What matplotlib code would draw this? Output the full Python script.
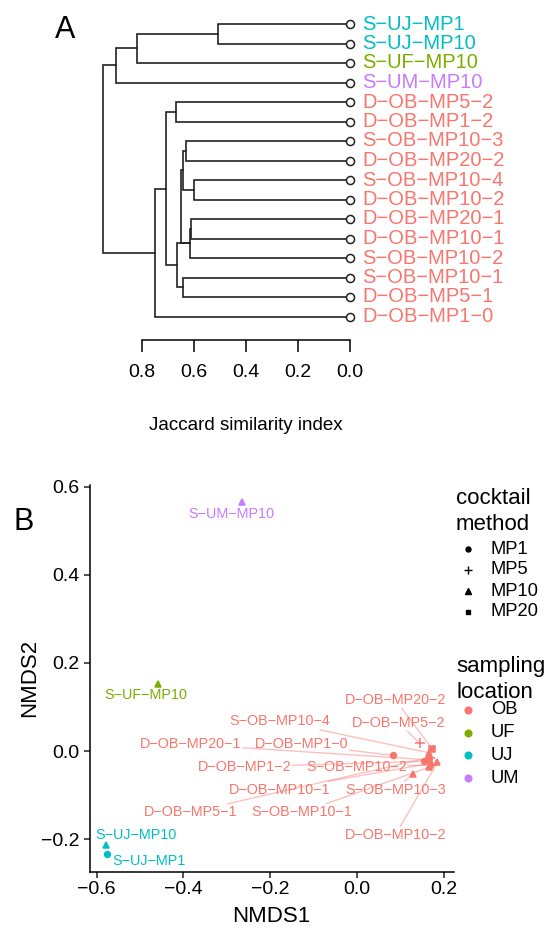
import numpy as np
import matplotlib
matplotlib.use('Agg')
import matplotlib.pyplot as plt
from matplotlib.ticker import FuncFormatter

plt.rcParams['font.family'] = ['Liberation Sans', 'DejaVu Sans']

W, H = 549, 931

# ---- panel A data: hclust (R merge convention, negative = leaf) ----
leaf_labels = ['S-UJ-MP1', 'S-UJ-MP10', 'S-UF-MP10', 'S-UM-MP10',
               'D-OB-MP5-2', 'D-OB-MP1-2', 'S-OB-MP10-3', 'D-OB-MP20-2',
               'S-OB-MP10-4', 'D-OB-MP10-2', 'D-OB-MP20-1', 'D-OB-MP10-1',
               'S-OB-MP10-2', 'S-OB-MP10-1', 'D-OB-MP5-1', 'D-OB-MP1-0']
leaf_site = ['UJ', 'UJ', 'UF', 'UM'] + ['OB'] * 12
merge_left = [-1, 1, 2, -5, -7, -9, 5, -11, 8, 7, -14, 9, 4, 13, 3]
merge_right = [-2, -3, -4, -6, -8, -10, 6, -12, -13, 9, -15, 11, 12, -16, 14]
merge_height = [0.507, 0.818, 0.900, 0.669, 0.631, 0.600, 0.640, 0.609,
                0.613, 0.649, 0.640, 0.664, 0.7065, 0.750, 0.948]
jaccard_ticks = [0.8, 0.6, 0.4, 0.2, 0.0]

# ---- panel B data: NMDS ----
samples = ['S-UM-MP10', 'S-UF-MP10', 'S-UJ-MP10', 'S-UJ-MP1',
           'D-OB-MP20-2', 'D-OB-MP5-2', 'S-OB-MP10-4', 'D-OB-MP20-1',
           'D-OB-MP1-0', 'D-OB-MP1-2', 'S-OB-MP10-2', 'D-OB-MP10-1',
           'S-OB-MP10-3', 'D-OB-MP5-1', 'S-OB-MP10-1', 'D-OB-MP10-2']
site = ['UM', 'UF', 'UJ', 'UJ'] + ['OB'] * 12
method = ['MP10', 'MP10', 'MP10', 'MP1',
          'MP20', 'MP5', 'MP10', 'MP20', 'MP1', 'MP1', 'MP10', 'MP10',
          'MP10', 'MP5', 'MP10', 'MP10']
nmds1 = [-0.265, -0.459, -0.578, -0.577,
         0.174, 0.145, 0.167, 0.166, 0.084, 0.154, 0.168, 0.172,
         0.129, 0.168, 0.166, 0.186]
nmds2 = [0.565, 0.153, -0.214, -0.234,
         0.005, 0.018, -0.004, -0.020, -0.010, -0.023, -0.032, -0.028,
         -0.052, -0.015, -0.037, -0.026]
# repelled label positions
label_x = [-0.289, -0.486, -0.509, -0.480,
           0.089, 0.097, -0.178, -0.383, -0.128, -0.259, -0.001, -0.178,
           0.089, -0.383, -0.126, 0.089]
label_y = [0.537, 0.128, -0.190, -0.250,
           0.116, 0.064, 0.067, 0.015, 0.015, -0.036, -0.036, -0.088,
           -0.088, -0.139, -0.139, -0.190]

site_levels = ['OB', 'UF', 'UJ', 'UM']
method_levels = ['MP1', 'MP5', 'MP10', 'MP20']
site_colors = {'OB': '#F8766D', 'UF': '#7CAE00', 'UJ': '#00BFC4', 'UM': '#C77CFF'}
method_marker = {'MP1': ('o', 4.2), 'MP5': ('+', 6.5), 'MP10': ('^', 4.6), 'MP20': ('s', 4.0)}


def fx(px):
    return px / W


def fy(py):
    return 1 - py / H


def dash(s):
    return s.replace('-', '\u2212')


tick_fmt = FuncFormatter(lambda v, pos: dash('%.1f' % (0.0 if abs(v) < 1e-9 else v)))

fig = plt.figure(figsize=(W / 100, H / 100), dpi=100)

# ================= panel A =================
unit = 260.0
right_px, top_px, bot_px = 349.7, 10, 340
xmax = 1.2
axA = fig.add_axes([fx(right_px - xmax * unit), fy(bot_px),
                    xmax * unit / W, (bot_px - top_px) / H])
y0, dy = 24, 19.5
axA.set_xlim(xmax, 0)
axA.set_ylim((bot_px - y0) / dy, (top_px - y0) / dy)

node_x, node_y = [], []


def child_pos(c):
    if c < 0:
        return 0.0, float(-c - 1)
    return node_x[c - 1], node_y[c - 1]


for l, r, h in zip(merge_left, merge_right, merge_height):
    xl, yl = child_pos(l)
    xr, yr = child_pos(r)
    axA.plot([xl, h, h, xr], [yl, yl, yr, yr], color='#222222', lw=1.2,
             solid_joinstyle='miter', clip_on=False)
    node_x.append(h)
    node_y.append((yl + yr) / 2)

leaf_y = np.arange(len(leaf_labels))
axA.plot(np.zeros(len(leaf_labels)), leaf_y, 'o', mfc='white', mec='#222222',
         ms=5.8, mew=1.1, clip_on=False, zorder=3)
for i, lab in enumerate(leaf_labels):
    axA.annotate(dash(lab), (0, i), xytext=(9, 0), textcoords='offset points',
                 va='center', ha='left', fontsize=14.5,
                 color=site_colors[leaf_site[i]], annotation_clip=False)

for s in ['left', 'top', 'right']:
    axA.spines[s].set_visible(False)
axA.spines['bottom'].set_bounds(0, 0.8)
axA.spines['bottom'].set_linewidth(1.1)
axA.set_xticks(jaccard_ticks)
axA.xaxis.set_major_formatter(tick_fmt)
axA.tick_params(axis='x', direction='out', length=8.6, width=1.1, pad=9,
                labelsize=14)
axA.set_yticks([])
axA.patch.set_visible(False)

fig.text(fx(245.7), fy(425), 'Jaccard similarity index', ha='center',
         va='center', fontsize=13.5)
fig.text(fx(65.5), fy(30), 'A', ha='center', va='center', fontsize=22)

# ================= panel B =================
x_arr, y_arr = np.array(nmds1), np.array(nmds2)
ex = 0.05 * (x_arr.max() - x_arr.min())
ey = 0.05 * (y_arr.max() - y_arr.min())
bl, br, bt, bb = 89.5, 454, 484.5, 871.7
axB = fig.add_axes([fx(bl), fy(bb), (br - bl) / W, (bb - bt) / H])
axB.set_xlim(x_arr.min() - ex, x_arr.max() + ex)
axB.set_ylim(y_arr.min() - ey, y_arr.max() + ey)

for i in range(len(samples)):
    mk, ms = method_marker[method[i]]
    axB.plot(nmds1[i], nmds2[i], mk, color=site_colors[site[i]], ms=ms,
             mew=1.1, zorder=4, clip_on=False)

texts = []
for i in range(len(samples)):
    t = axB.text(label_x[i], label_y[i], dash(samples[i]), ha='center',
                 va='center', fontsize=10.4, color=site_colors[site[i]], zorder=5)
    texts.append(t)

axB.set_xticks([-0.6, -0.4, -0.2, 0.0, 0.2])
axB.set_yticks([-0.2, 0.0, 0.2, 0.4, 0.6])
axB.xaxis.set_major_formatter(tick_fmt)
axB.yaxis.set_major_formatter(tick_fmt)
for s in ['top', 'right']:
    axB.spines[s].set_visible(False)
for s in ['left', 'bottom']:
    axB.spines[s].set_linewidth(1.1)
axB.tick_params(direction='out', length=4, width=1.1, pad=3, labelsize=14,
                colors='#222222', labelcolor='black')
axB.patch.set_visible(False)

fig.text(fx(271.5), fy(917), 'NMDS1', ha='center', va='center', fontsize=16)
fig.text(fx(30), fy(678), 'NMDS2', ha='center', va='center', fontsize=16,
         rotation=90)
fig.text(fx(24), fy(522.5), 'B', ha='center', va='center', fontsize=22)

# segments from OB points to their labels
fig.canvas.draw()
renderer = fig.canvas.get_renderer()
inv = axB.transData.inverted()
for i, t in enumerate(texts):
    if site[i] != 'OB':
        continue
    bb_t = t.get_window_extent(renderer).padded(1.5)
    p = axB.transData.transform((nmds1[i], nmds2[i]))
    c = np.array([(bb_t.x0 + bb_t.x1) / 2, (bb_t.y0 + bb_t.y1) / 2])
    d = c - p
    s_enter = 0.0
    for k, (lo, hi) in enumerate([(bb_t.x0, bb_t.x1), (bb_t.y0, bb_t.y1)]):
        if abs(d[k]) > 1e-9:
            s1, s2 = (lo - p[k]) / d[k], (hi - p[k]) / d[k]
            s_enter = max(s_enter, min(s1, s2))
    end = p + s_enter * d
    start = p + d / np.linalg.norm(d) * 2.0
    a, b = inv.transform(start), inv.transform(end)
    axB.plot([a[0], b[0]], [a[1], b[1]], color='#F8766D', alpha=0.45, lw=1.0,
             zorder=2)

# ---- legends (drawn on an overlay in pixel coordinates) ----
axL = fig.add_axes([0, 0, 1, 1])
axL.set_xlim(0, W)
axL.set_ylim(H, 0)
axL.axis('off')
axL.patch.set_visible(False)

axL.text(456, 511.5, 'cocktail\nmethod', ha='left', va='center', fontsize=16,
         linespacing=1.3)
for i, m in enumerate(method_levels):
    yy = 549 + 21 * i
    mk, ms = method_marker[m]
    axL.plot(467.7, yy, mk, color='black', ms=ms * 0.85, mew=1.0)
    axL.text(491, yy, m, ha='left', va='center', fontsize=13.2)

axL.text(456, 679.5, 'sampling\nlocation', ha='left', va='center',
         fontsize=16, linespacing=1.3)
for i, s in enumerate(site_levels):
    yy = 710 + 22.7 * i
    axL.plot(467.7, yy, 'o', color=site_colors[s], ms=4.8)
    axL.text(491, yy, s, ha='left', va='center', fontsize=13.2)

fig.savefig('out.png', dpi=100)
